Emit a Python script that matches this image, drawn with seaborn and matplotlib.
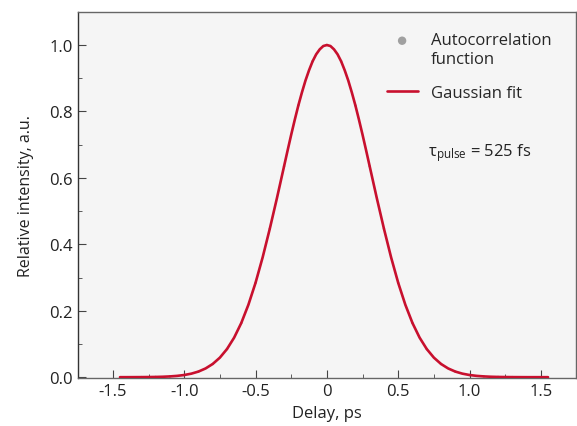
import matplotlib
matplotlib.use('Agg')
import matplotlib.pyplot as plt
import seaborn as sns
import pandas as pd
from matplotlib.ticker import MultipleLocator, FuncFormatter

# data
delay = [-1.45, -1.40, -1.35, -1.30, -1.25, -1.20, -1.15, -1.10, -1.05, -1.00,
         -0.95, -0.90, -0.85, -0.80, -0.75, -0.70, -0.65, -0.60, -0.55, -0.50,
         -0.45, -0.40, -0.35, -0.30, -0.275, -0.25, -0.225, -0.20, -0.175, -0.15,
         -0.125, -0.10, -0.075, -0.05, -0.025, 0.00, 0.025, 0.05, 0.075, 0.10,
         0.125, 0.15, 0.175, 0.20, 0.225, 0.25, 0.275, 0.30, 0.35, 0.40,
         0.45, 0.50, 0.55, 0.60, 0.65, 0.70, 0.75, 0.80, 0.85, 0.90,
         0.95, 1.00, 1.05, 1.10, 1.15, 1.20, 1.25, 1.30, 1.35, 1.40,
         1.45, 1.50, 1.55]
intensity = [0.0000, 0.0000, 0.0001, 0.0002, 0.0004, 0.0007, 0.0013, 0.0023, 0.0039, 0.0065,
             0.0106, 0.0169, 0.0263, 0.0398, 0.0588, 0.0847, 0.119, 0.163, 0.218, 0.284,
             0.361, 0.447, 0.539, 0.635, 0.683, 0.730, 0.775, 0.818, 0.857, 0.893,
             0.924, 0.951, 0.972, 0.987, 0.997, 1.000, 0.997, 0.987, 0.972, 0.951,
             0.924, 0.893, 0.857, 0.818, 0.775, 0.730, 0.683, 0.635, 0.539, 0.447,
             0.361, 0.284, 0.218, 0.163, 0.119, 0.0847, 0.0588, 0.0398, 0.0263, 0.0169,
             0.0106, 0.0065, 0.0039, 0.0023, 0.0013, 0.0007, 0.0004, 0.0002, 0.0001, 0.0000,
             0.0000, 0.0000, 0.0000]

fit = pd.DataFrame({'delay': delay, 'intensity': intensity})
acf = fit[(fit['delay'] * 100).round().astype(int) % 10 == 0]

sns.set_style('ticks')
plt.rcParams['font.family'] = ['Open Sans', 'DejaVu Sans']
plt.rcParams['mathtext.fontset'] = 'custom'
plt.rcParams['mathtext.rm'] = 'Open Sans'
plt.rcParams['mathtext.it'] = 'Open Sans'
plt.rcParams['axes.unicode_minus'] = False

fig = plt.figure(figsize=(5.77, 4.27), dpi=100)
ax = fig.add_axes([0.135, 0.112, 0.863, 0.858])
ax.set_facecolor('#f5f5f5')

sns.scatterplot(data=acf, x='delay', y='intensity', color='#a0a0a0', s=3,
                edgecolor='none', label='Autocorrelation\nfunction', ax=ax, zorder=2)
sns.lineplot(data=fit, x='delay', y='intensity', color='#c8102e', lw=1.9,
             label='Gaussian fit', ax=ax, zorder=3)

ax.set_xlim(-1.745, 1.745)
ax.set_ylim(-0.003, 1.1)
ax.xaxis.set_major_locator(MultipleLocator(0.5))
ax.xaxis.set_minor_locator(MultipleLocator(0.25))
ax.yaxis.set_major_locator(MultipleLocator(0.2))
ax.yaxis.set_minor_locator(MultipleLocator(0.1))
ax.xaxis.set_major_formatter(FuncFormatter(lambda v, p: '0' if abs(v) < 1e-9 else '%.1f' % v))
ax.yaxis.set_major_formatter(FuncFormatter(lambda v, p: '%.1f' % v))
ax.tick_params(which='both', direction='in', colors='#444444', labelcolor='#222222',
               labelsize=12, top=False, right=False)
ax.tick_params(which='major', length=6)
ax.tick_params(which='minor', length=3)
for s in ax.spines.values():
    s.set_color('#666666')
    s.set_linewidth(1.0)
ax.spines['left'].set_color('#333333')

ax.set_xlabel('Delay, ps', fontsize=12, color='#222222', labelpad=4)
ax.set_ylabel('Relative intensity, a.u.', fontsize=11.5, color='#222222', labelpad=11)

leg = ax.legend(loc='upper left', bbox_to_anchor=(0.59, 0.985), frameon=False,
                fontsize=12, handlelength=1.85, handletextpad=0.8, labelspacing=1.1,
                markerscale=3.5)
# dot sits level with the first line of its two-line label
dot = leg.legend_handles[0]
offs = dot.get_offsets().copy()
offs[:, 1] += 7.5
dot.set_offsets(offs)

ax.text(0.703, 0.618, r'τ$_{\mathrm{pulse}}$ = 525 fs', transform=ax.transAxes,
        fontsize=12, color='#222222', va='center')

fig.savefig('out.png', dpi=100)
